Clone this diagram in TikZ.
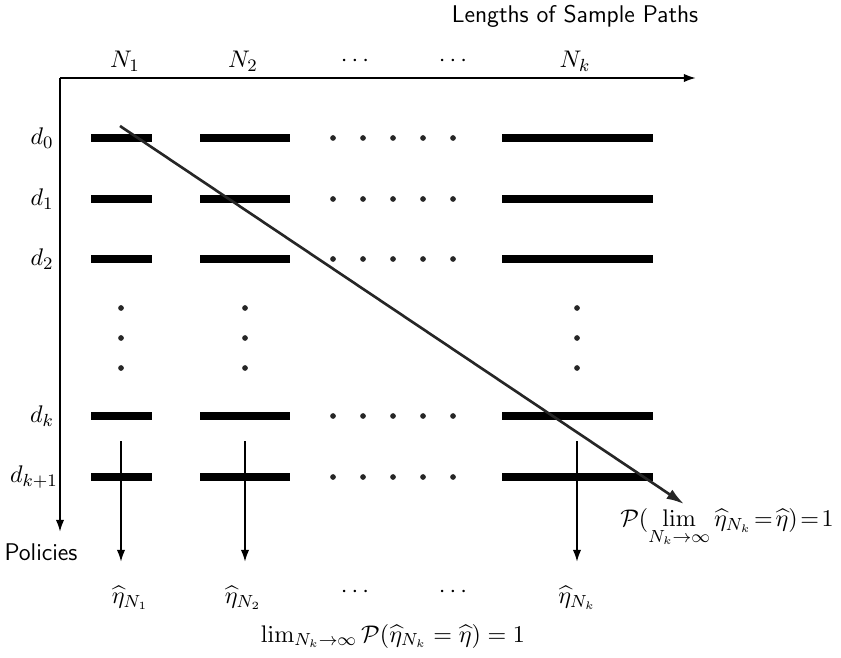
\documentclass[tikz,border=0pt]{standalone}
\usepackage{amsmath,amssymb}
\usepackage{tikz}
\usetikzlibrary{arrows.meta}

\begin{document}
\begin{tikzpicture}[
    x=0.016cm, y=-0.016cm,
    bar/.style={line width=3.2pt},
    axis/.style={-{Latex[length=5.5pt,width=3.8pt]}, line width=0.9pt},
    down/.style={-{Latex[length=5.5pt,width=3.8pt]}, line width=0.9pt},
    conv/.style={-{Latex[length=8pt,width=5pt]}, line width=1.2pt, color=black!85},
    dot/.style={circle, fill=black!85, inner sep=0pt, minimum size=2.6pt},
    lab/.style={inner sep=1pt, font=\fontsize{11}{13}\selectfont},
    side/.style={font=\fontsize{11}{13}\selectfont\sffamily, inner sep=1pt}
]
\useasboundingbox (0,0) rectangle (841,658);

% Axes
\coordinate (origin) at (60,78);
\coordinate (xend) at (696,78);
\coordinate (yend) at (60,532);
\draw[axis] (origin) -- (xend);
\draw[axis] (origin) -- (yend);
\node[side] (xlab) at (575,16) {Lengths of Sample Paths};
\node[side] (ylab) at (41,552) {Policies};

% Column labels
\node[lab] (n1) at (125,61) {$N_1$};
\node[lab] (n2) at (243,61) {$N_2$};
\node[lab] (ndots1) at (357,61) {$\cdots$};
\node[lab] (ndots2) at (455,61) {$\cdots$};
\node[lab] (nk) at (575,61) {$N_k$};

% Row labels
\node[lab] (d0) at (42,138) {$d_0$};
\node[lab] (d1) at (42,199) {$d_1$};
\node[lab] (d2) at (42,259) {$d_2$};
\node[lab] (dk) at (42,416) {$d_k$};
\node[lab] (dk1) at (34,477) {$d_{k+1}$};

% Bars and dotted gaps in each row
\foreach \y in {138,199,259,416,477} {
  \draw[bar] (91,\y) -- (152,\y);
  \draw[bar] (200,\y) -- (290,\y);
  \draw[bar] (502,\y) -- (653,\y);
  \foreach \x in {333,363,393,423,453}
    \node[dot] at (\x,\y) {};
}

% Vertical dots between d_2 and d_k
\foreach \x in {121,245,577}
  \foreach \y in {308,338,368}
    \node[dot] at (\x,\y) {};

% Estimates at the bottom
\node[lab] (eta1) at (130,598) {$\widehat{\eta}_{N_1}$};
\node[lab] (eta2) at (243,598) {$\widehat{\eta}_{N_2}$};
\node[lab] (edots1) at (357,592) {$\cdots$};
\node[lab] (edots2) at (455,592) {$\cdots$};
\node[lab] (etak) at (577,598) {$\widehat{\eta}_{N_k}$};

% Arrows down to the estimates
\foreach \c/\x in {1/121,2/245,k/577} {
  \coordinate (top\c) at (\x,441);
  \coordinate (bot\c) at (\x,562);
  \draw[down] (top\c) -- (bot\c);
}

% Diagonal convergence arrow
\coordinate (diagstart) at (120,126);
\coordinate (diagend) at (684,504);
\draw[conv] (diagstart) -- (diagend);
\node[lab] (prob) at (727,528)
  {$\mathcal{P}(\lim\limits_{N_k\to\infty}\widehat{\eta}_{N_k}\!=\!\widehat{\eta})\!=\!1$};

% Bottom statement
\node[lab] (limit) at (393,636)
  {$\lim_{N_k\to\infty}\mathcal{P}(\widehat{\eta}_{N_k}=\widehat{\eta})=1$};

\end{tikzpicture}
\end{document}
